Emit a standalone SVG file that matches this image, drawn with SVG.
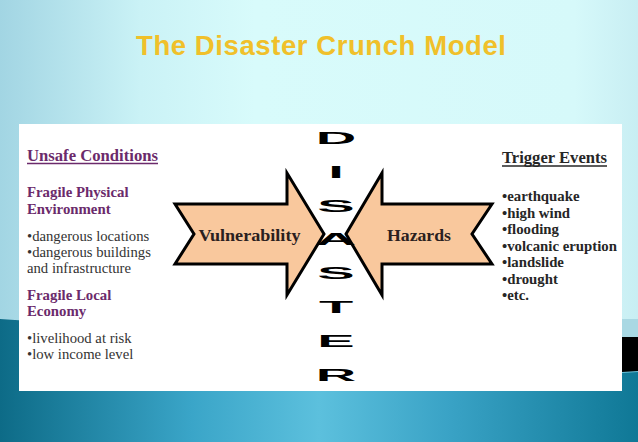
<svg xmlns="http://www.w3.org/2000/svg" width="638" height="442" viewBox="0 0 638 442">
  <defs>
    <linearGradient id="skyGrad" x1="0" y1="0" x2="1" y2="0">
      <stop offset="0" stop-color="#a2d5e3"/>
      <stop offset="0.22" stop-color="#caf2f6"/>
      <stop offset="0.4" stop-color="#d8fbfb"/>
      <stop offset="0.9" stop-color="#d6f9fa"/>
      <stop offset="1" stop-color="#c8eef3"/>
    </linearGradient>
    <linearGradient id="seaGrad" x1="0" y1="0" x2="1" y2="0">
      <stop offset="0" stop-color="#0d6b87"/>
      <stop offset="0.3" stop-color="#3aa5c8"/>
      <stop offset="0.5" stop-color="#5cc0dd"/>
      <stop offset="0.7" stop-color="#3aa3c6"/>
      <stop offset="1" stop-color="#0f7896"/>
    </linearGradient>
    <style>
      .serif { font-family: "Liberation Serif", "Times New Roman", serif; }
      .head { font-weight: bold; fill: #6b2a6b; font-size: 14.8px; }
      .headU { font-weight: bold; fill: #6b2a6b; font-size: 16.5px; }
      .body { fill: #333333; font-size: 14.7px; }
      .trig { font-weight: bold; fill: #262626; font-size: 14.8px; }
      .trigH { font-weight: bold; fill: #262626; font-size: 16.4px; }
      .arrow { fill: #f9c89d; stroke: #000000; stroke-width: 3; stroke-linejoin: miter; stroke-miterlimit: 10; }
      .alabel { font-family: "Liberation Serif", "Times New Roman", serif; font-weight: bold; font-size: 17px; fill: #2a2020; }
      .big { font-family: "Liberation Sans", Arial, sans-serif; font-weight: bold; font-size: 16px; fill: #000000; text-anchor: middle; }
    </style>
  </defs>

  <!-- background -->
  <rect x="0" y="0" width="638" height="442" fill="url(#skyGrad)"/>
  <path d="M0,319 C 120,326 400,352 638,368 L638,442 L0,442 Z" fill="url(#seaGrad)"/>
  <rect x="622" y="319" width="16" height="18" fill="#a9d8e3"/>
  <rect x="622" y="337" width="16" height="35" fill="#000000"/>
  <line x1="622" y1="372.5" x2="638" y2="371.5" stroke="#6fc3da" stroke-width="1"/>

  <!-- title -->
  <text id="title" x="136" y="55" textLength="370" lengthAdjust="spacing" font-family="Liberation Sans, Arial, sans-serif" font-weight="bold" font-size="27.5" fill="#f0c02a">The Disaster Crunch Model</text>

  <!-- white panel -->
  <rect id="panel" x="19" y="124" width="603" height="267" fill="#ffffff"/>

  <!-- Unsafe conditions -->
  <g id="unsafe-conditions" class="serif">
    <text class="headU" x="27" y="160.5" textLength="131" lengthAdjust="spacingAndGlyphs">Unsafe Conditions</text>
    <line x1="27" y1="163.5" x2="158" y2="163.5" stroke="#6b2a6b" stroke-width="1.4"/>
    <text class="head" x="27" y="197">Fragile Physical</text>
    <text class="head" x="27" y="214">Environment</text>
    <text class="body" x="27" y="241">•dangerous locations</text>
    <text class="body" x="27" y="257">•dangerous buildings</text>
    <text class="body" x="27" y="273">and infrastructure</text>
    <text class="head" x="27" y="300">Fragile Local</text>
    <text class="head" x="27" y="315.5">Economy</text>
    <text class="body" x="27" y="343">•livelihood at risk</text>
    <text class="body" x="27" y="359">•low income level</text>
  </g>

  <!-- Vulnerability arrow -->
  <g id="vulnerability">
    <path class="arrow" d="M175,204 L287,204 L287,173 L324,234 L287,295 L287,264 L175,264 L194,234 Z"/>
    <text class="alabel" x="198.5" y="241" textLength="102" lengthAdjust="spacingAndGlyphs">Vulnerability</text>
  </g>

  <!-- Hazards arrow -->
  <g id="hazards">
    <path class="arrow" d="M492,204 L382,204 L382,173 L346,234 L382,295 L382,264 L492,264 L472,234 Z"/>
    <text class="alabel" x="387" y="241" textLength="64" lengthAdjust="spacingAndGlyphs">Hazards</text>
  </g>

  <!-- DISASTER -->
  <g id="disaster">
    <text class="big" transform="translate(336,144) scale(3.5,1)">D</text>
    <text class="big" transform="translate(336,177.8) scale(3.5,1)">I</text>
    <text class="big" transform="translate(336,211.6) scale(3.5,1)">S</text>
    <text class="big" transform="translate(336,245.4) scale(3.5,1)">A</text>
    <text class="big" transform="translate(336,279.2) scale(3.5,1)">S</text>
    <text class="big" transform="translate(336,313) scale(3.5,1)">T</text>
    <text class="big" transform="translate(336,346.8) scale(3.5,1)">E</text>
    <text class="big" transform="translate(336,380.6) scale(3.5,1)">R</text>
  </g>

  <!-- Trigger events -->
  <g id="trigger-events" class="serif">
    <text class="trigH" x="502" y="163" textLength="105" lengthAdjust="spacingAndGlyphs">Trigger Events</text>
    <line x1="502" y1="166" x2="607" y2="166" stroke="#262626" stroke-width="1.4"/>
    <text class="trig" x="502" y="201">•earthquake</text>
    <text class="trig" x="502" y="217.5">•high wind</text>
    <text class="trig" x="502" y="234">•flooding</text>
    <text class="trig" x="502" y="250.5">•volcanic eruption</text>
    <text class="trig" x="502" y="267">•landslide</text>
    <text class="trig" x="502" y="283.5">•drought</text>
    <text class="trig" x="502" y="300">•etc.</text>
  </g>

  <g id="connectors"/>
</svg>
